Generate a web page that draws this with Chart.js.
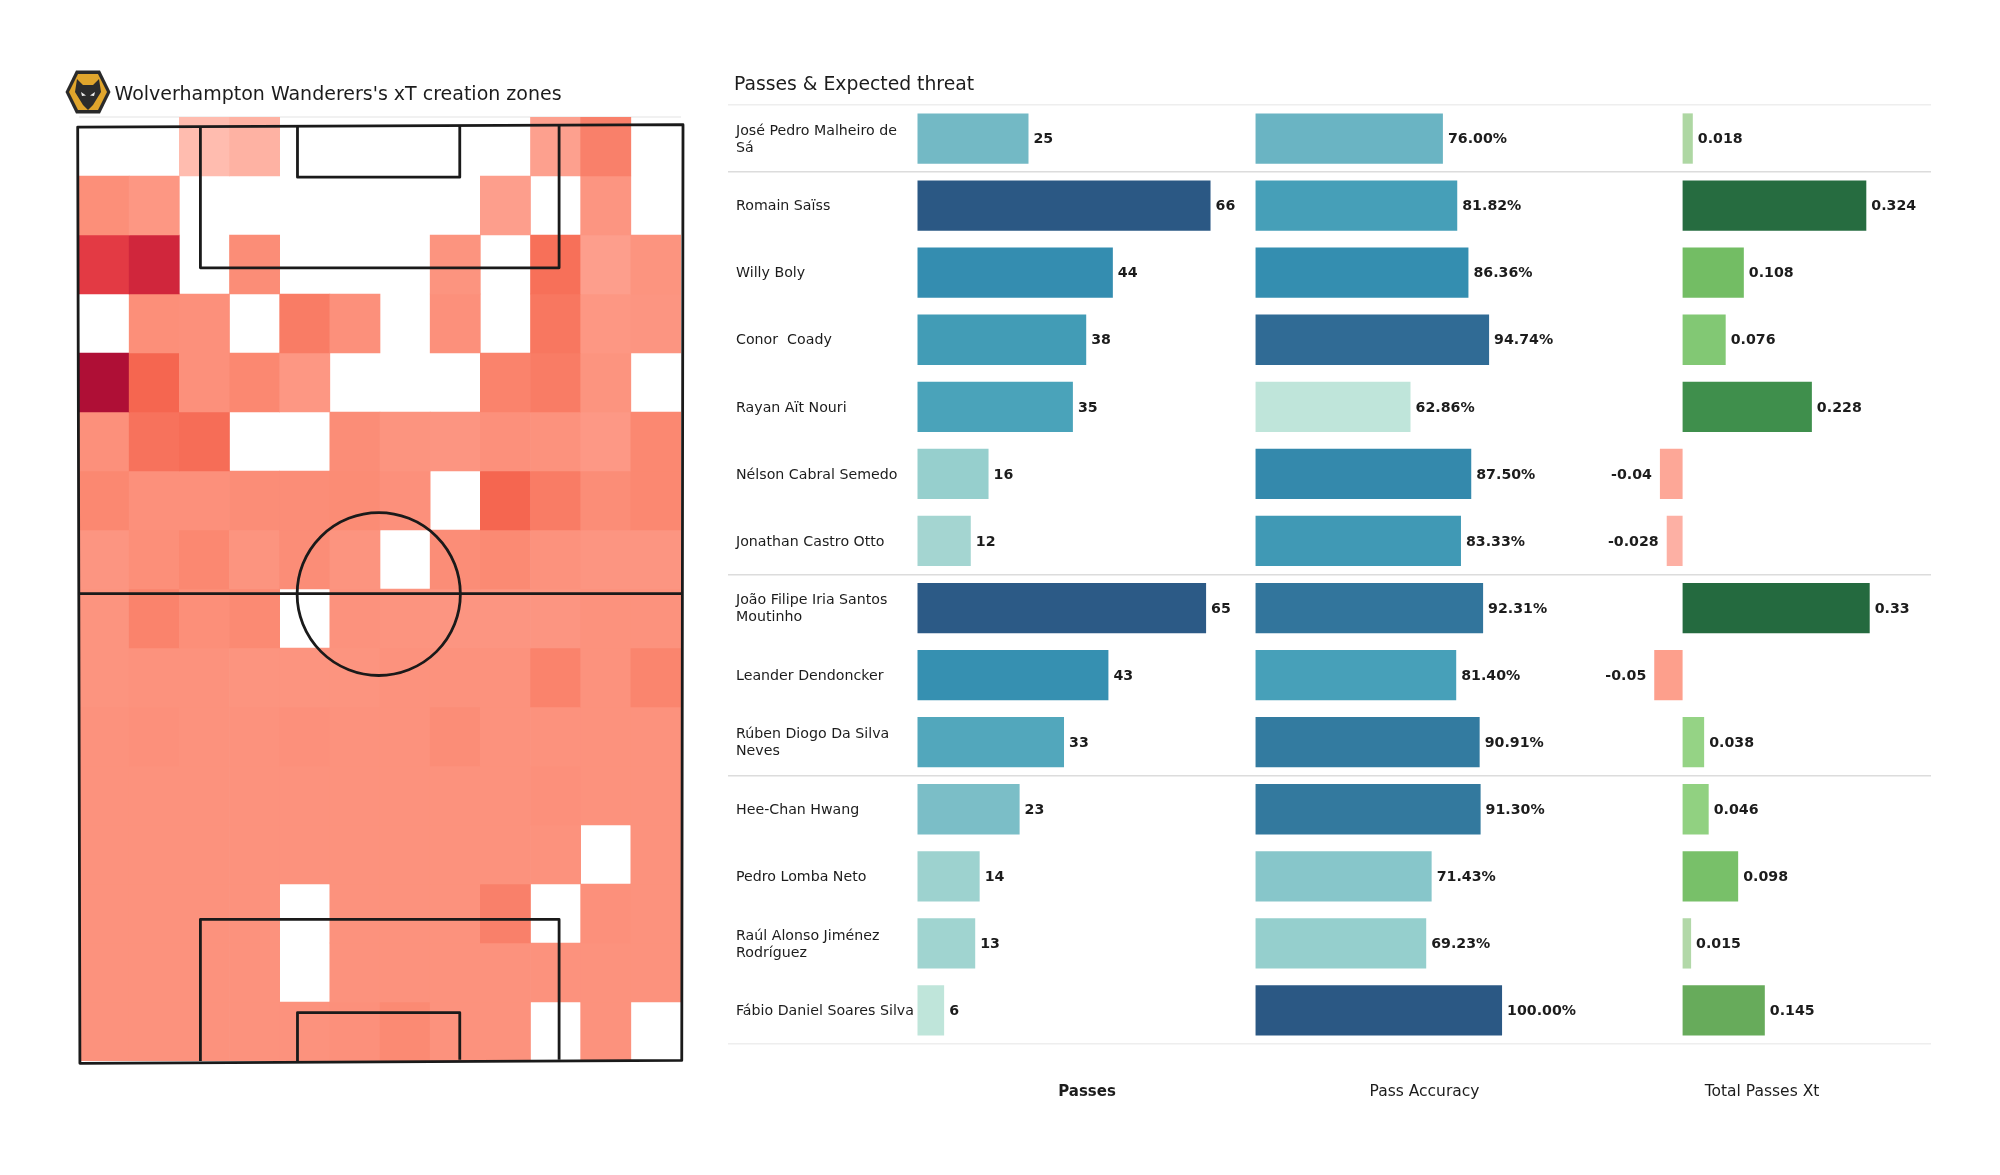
<!DOCTYPE html>
<html>
<head>
<meta charset="utf-8">
<title>Wolves xT creation</title>
<script src="https://cdn.jsdelivr.net/npm/chart.js@4"></script>
<style>
  html, body { margin: 0; background: #fff; }
  body { width: 2000px; height: 1175px; position: relative; overflow: hidden; }
  canvas { position: absolute; }
  #crest { position: absolute; left: 64px; top: 69px; }
</style>
</head>
<body>
<svg id="crest" width="48" height="46" viewBox="0 0 48 46">
  <polygon points="12,1.5 36,1.5 46.5,23 36,44.5 12,44.5 1.5,23" fill="#2a2a2a"/>
  <polygon points="14,5 34,5 43,23 34,41 14,41 5,23" fill="#e0a52c"/>
  <polygon points="13,10 19,16 29,16 35,10 37,23 29,36 24,41 19,36 11,23" fill="#2c2c2c"/>
  <polygon points="17,23 22,26.5 18,27" fill="#ececec"/>
  <polygon points="31,23 26,26.5 30,27" fill="#ececec"/>
</svg>
<canvas id="heat" width="680" height="1060" style="left:40px;top:50px;width:680px;height:1060px"></canvas>
<canvas id="table" width="1240" height="1060" style="left:720px;top:60px;width:1240px;height:1060px"></canvas>

<script>
// ── HEATMAP DATA (xT level per zone, null = no passes) ──
const heatColumns = ['1','2','3','4','5','6','7','8','9','10','11','12'];
const heatRows = [
  [null, null,    3,    8, null, null, null, null, null,   17,   34, null],
  [  27,   22, null, null, null, null, null, null,   18, null,   23, null],
  [  70,   80, null,   28, null, null, null,   24, null,   41,   18,   24],
  [null,   27,   26, null,   36,   26, null,   26, null,   38,   22,   23],
  [ 100,   45,   26,   31,   22, null, null, null,   33,   36,   24, null],
  [  26,   40,   42, null, null,   28,   24,   23,   26,   25,   21,   31],
  [  31,   26,   26,   28,   28,   29,   26, null,   45,   36,   28,   31],
  [  23,   27,   31,   24,   28,   24, null,   28,   30,   25,   23,   23],
  [  24,   33,   27,   30, null,   25,   24,   23,   23,   23,   25,   25],
  [  24,   25,   25,   24,   24,   24,   25,   25,   25,   33,   25,   32],
  [  25,   26,   25,   25,   26,   25,   25,   28,   25,   25,   25,   25],
  [  25,   25,   25,   25,   25,   25,   25,   25,   25,   26,   25,   25],
  [  25,   25,   25,   25,   25,   25,   25,   25,   25,   25, null,   25],
  [  25,   25,   25,   25, null,   25,   25,   25,   34, null,   26,   25],
  [  25,   25,   25,   25, null,   25,   25,   25,   25,   25,   25,   25],
  [  25,   25,   25,   25,   25,   26,   30,   25,   25, null,   25, null]
];

// ── PLAYER TABLE DATA ──
const players = [
  ['José Pedro Malheiro de', 'Sá'],
  'Romain Saïss',
  'Willy Boly',
  'Conor  Coady',
  'Rayan Aït Nouri',
  'Nélson Cabral Semedo',
  'Jonathan Castro Otto',
  ['João Filipe Iria Santos', 'Moutinho'],
  'Leander Dendoncker',
  ['Rúben Diogo Da Silva', 'Neves'],
  'Hee-Chan Hwang',
  'Pedro Lomba Neto',
  ['Raúl Alonso Jiménez', 'Rodríguez'],
  'Fábio Daniel Soares Silva'
];
const passes = [25, 66, 44, 38, 35, 16, 12, 65, 43, 33, 23, 14, 13, 6];
const passAccuracy = [76, 81.82, 86.36, 94.74, 62.86, 87.5, 83.33, 92.31, 81.4, 90.91, 91.3, 71.43, 69.23, 100];
const passesXt = [0.018, 0.324, 0.108, 0.076, 0.228, -0.04, -0.028, 0.33, -0.05, 0.038, 0.046, 0.098, 0.015, 0.145];
const columnTitles = ['Passes', 'Pass Accuracy', 'Total Passes Xt'];

// Grid lines sit above these rows (undefined = the closing line)
const separatorRows = [0, 1, 7, 10];

// ── COLOUR RAMPS ──
const heatRamp = [[0,'#ffc2b6'],[20,'#fd9a87'],[30,'#fb8a73'],[45,'#f56650'],[70,'#e33a44'],[80,'#d0263c'],[100,'#af0f36']];
const crestRamp = [[0,'#bfe5da'],[.1,'#a4d5d1'],[.17,'#95cfcd'],[.32,'#72b9c5'],[.48,'#4aa3ba'],[.63,'#348eb0'],[.76,'#337a9f'],[.86,'#306b95'],[1,'#2b5884']];
const greenRamp = [[.015,'#b2d8a8'],[.038,'#95d385'],[.076,'#82c874'],[.108,'#73bd64'],[.145,'#67ab5b'],[.228,'#3f8f4c'],[.33,'#246a3f']];
const redRamp = [[.028,'#fdb0a4'],[.05,'#fd9f8c']];

function rampColour(ramp, v) {
  if (v <= ramp[0][0]) return ramp[0][1];
  for (let i = 1; i < ramp.length; i++) {
    if (v <= ramp[i][0]) {
      const [a, ca] = ramp[i - 1], [b, cb] = ramp[i];
      const t = (v - a) / (b - a);
      const mix = [1, 3, 5].map(p => {
        const x = parseInt(ca.substr(p, 2), 16), y = parseInt(cb.substr(p, 2), 16);
        return Math.round(x + (y - x) * t);
      });
      return `rgb(${mix.join(',')})`;
    }
  }
  return ramp[ramp.length - 1][1];
}

const FONT = '"DejaVu Sans", sans-serif';
const INK = '#1c1c1c';

function drawText(ctx, text, x, y, font, align) {
  ctx.save();
  ctx.font = font;
  ctx.fillStyle = INK;
  ctx.textAlign = align || 'left';
  ctx.textBaseline = 'middle';
  ctx.fillText(text, x, y);
  ctx.restore();
}


// ── PITCH LINES, drawn in grid units over the cells ──
const pitchOutline = [[-0.026, 0.17], [12.04, 0.13], [12.015, 15.99], [0.018, 16.04]];
const pitchLines = [
  [[-0.02, 8.08], [12.03, 8.08]],
  [[2.42, 0.16], [2.42, 2.556], [9.57, 2.556], [9.57, 0.14]],
  [[4.355, 0.16], [4.355, 1.02], [7.59, 1.02], [7.59, 0.14]],
  [[2.42, 16.0], [2.42, 13.6], [9.57, 13.6], [9.57, 15.98]],
  [[4.355, 16.0], [4.355, 15.18], [7.59, 15.18], [7.59, 15.98]]
];
const centreCircle = { x: 5.975, y: 8.085, rx: 1.627, ry: 1.381 };

const pitchPlugin = {
  id: 'pitch',
  beforeDatasetsDraw(chart) {
    const { ctx, chartArea } = chart;
    ctx.save();
    ctx.strokeStyle = '#ececec';
    ctx.lineWidth = 1.5;
    ctx.beginPath();
    ctx.moveTo(chartArea.left, chartArea.top);
    ctx.lineTo(chartArea.right, chartArea.top);
    ctx.stroke();
    ctx.restore();
    drawText(ctx, "Wolverhampton Wanderers's xT creation zones", 74.5, 45.5, `19px ${FONT}`);
  },
  afterDatasetsDraw(chart) {
    const { ctx, scales: { x, y } } = chart;
    // category scale centres cells on whole numbers, so shift by half a cell
    const px = v => x.getPixelForValue(v - 0.5);
    const py = v => y.getPixelForValue(v);
    ctx.save();
    ctx.strokeStyle = '#1a1a1a';
    ctx.lineWidth = 2.8;
    ctx.lineJoin = 'round';
    ctx.beginPath();
    pitchOutline.forEach(([a, b], i) => i ? ctx.lineTo(px(a), py(b)) : ctx.moveTo(px(a), py(b)));
    ctx.closePath();
    ctx.stroke();
    pitchLines.forEach(line => {
      ctx.beginPath();
      line.forEach(([a, b], i) => i ? ctx.lineTo(px(a), py(b)) : ctx.moveTo(px(a), py(b)));
      ctx.stroke();
    });
    ctx.beginPath();
    ctx.ellipse(px(centreCircle.x), py(centreCircle.y),
      px(centreCircle.rx) - px(0), py(centreCircle.ry) - py(0), 0, 0, Math.PI * 2);
    ctx.stroke();
    ctx.restore();
  }
};

new Chart(document.getElementById('heat'), {
  type: 'bar',
  data: {
    labels: heatColumns,
    datasets: heatRows.map((row, r) => ({
      label: 'Row ' + (r + 1),
      data: row.map(v => v === null ? null : [r, r + 1]),
      backgroundColor: row.map(v => v === null ? 'rgba(0,0,0,0)' : rampColour(heatRamp, v)),
      borderWidth: 0,
      grouped: false,
      barPercentage: 1,
      categoryPercentage: 1
    }))
  },
  options: {
    responsive: false,
    animation: false,
    layout: { padding: { left: 39, right: 39, top: 67, bottom: 49 } },
    plugins: { legend: { display: false }, tooltip: { enabled: false } },
    scales: {
      x: { display: false },
      y: { display: false, reverse: true, min: 0, max: 16 }
    }
  },
  plugins: [pitchPlugin]
});


// ── TABLE: one bar chart, three x axes side by side ──
const formatters = [
  v => String(v),
  v => v.toFixed(2) + '%',
  v => String(v)
];

const tablePlugin = {
  id: 'tableText',
  afterDatasetsDraw(chart) {
    const { ctx } = chart;
    chart.data.datasets.forEach((ds, d) => {
      chart.getDatasetMeta(d).data.forEach((bar, i) => {
        const v = ds.data[i];
        const neg = v < 0;
        drawText(ctx, formatters[d](v), bar.x + (neg ? -8 : 5), bar.y + 1, `bold 14.2px ${FONT}`, neg ? 'right' : 'left');
      });
    });
    drawText(ctx, 'Passes & Expected threat', 14, 25, `18.8px ${FONT}`);
    drawText(ctx, columnTitles[0], 367, 1032, `bold 15px ${FONT}`, 'center');
    drawText(ctx, columnTitles[1], 704.5, 1032, `15.5px ${FONT}`, 'center');
    drawText(ctx, columnTitles[2], 1042, 1032, `15.5px ${FONT}`, 'center');
  }
};

new Chart(document.getElementById('table'), {
  type: 'bar',
  data: {
    labels: players,
    datasets: [
      {
        label: columnTitles[0],
        data: passes,
        xAxisID: 'xPasses',
        backgroundColor: passes.map(v => rampColour(crestRamp, (v - 6) / 60))
      },
      {
        label: columnTitles[1],
        data: passAccuracy,
        xAxisID: 'xAccuracy',
        backgroundColor: passAccuracy.map(v => rampColour(crestRamp, (v - 62.86) / 37.14))
      },
      {
        label: columnTitles[2],
        data: passesXt,
        xAxisID: 'xThreat',
        backgroundColor: passesXt.map(v => v < 0 ? rampColour(redRamp, -v) : rampColour(greenRamp, v))
      }
    ]
  },
  options: {
    indexAxis: 'y',
    responsive: false,
    animation: false,
    grouped: false,
    barPercentage: 0.75,
    categoryPercentage: 1,
    layout: { padding: { left: 8, right: 29, top: 45, bottom: 76 } },
    plugins: { legend: { display: false }, tooltip: { enabled: false } },
    scales: {
      // zero lines fall at x=917.5 / 1256.5 / 1682.6 on the page
      xPasses: { type: 'linear', display: false, min: -42.68, max: 228.27, grid: { display: false } },
      xAccuracy: { type: 'linear', display: false, min: -214, max: 274, grid: { display: false } },
      xThreat: { type: 'linear', display: false, min: -1.6836, max: 0.4381, grid: { display: false } },
      y: {
        position: 'left',
        afterFit: scale => { scale.width = 0; },
        border: { display: false },
        grid: {
          offset: true,
          drawTicks: false,
          lineWidth: 1.6,
          color: ctx => {
            if (ctx.index === undefined || ctx.index === 0) return '#eeeeee';
            return separatorRows.includes(ctx.index) ? '#dcdcdc' : 'rgba(0,0,0,0)';
          }
        },
        ticks: {
          mirror: true,
          padding: 8,
          labelOffset: 1,
          autoSkip: false,
          color: INK,
          font: { family: 'DejaVu Sans', size: 14.2, lineHeight: 1.2 }
        }
      }
    }
  },
  plugins: [tablePlugin]
});
</script>
</body>
</html>
